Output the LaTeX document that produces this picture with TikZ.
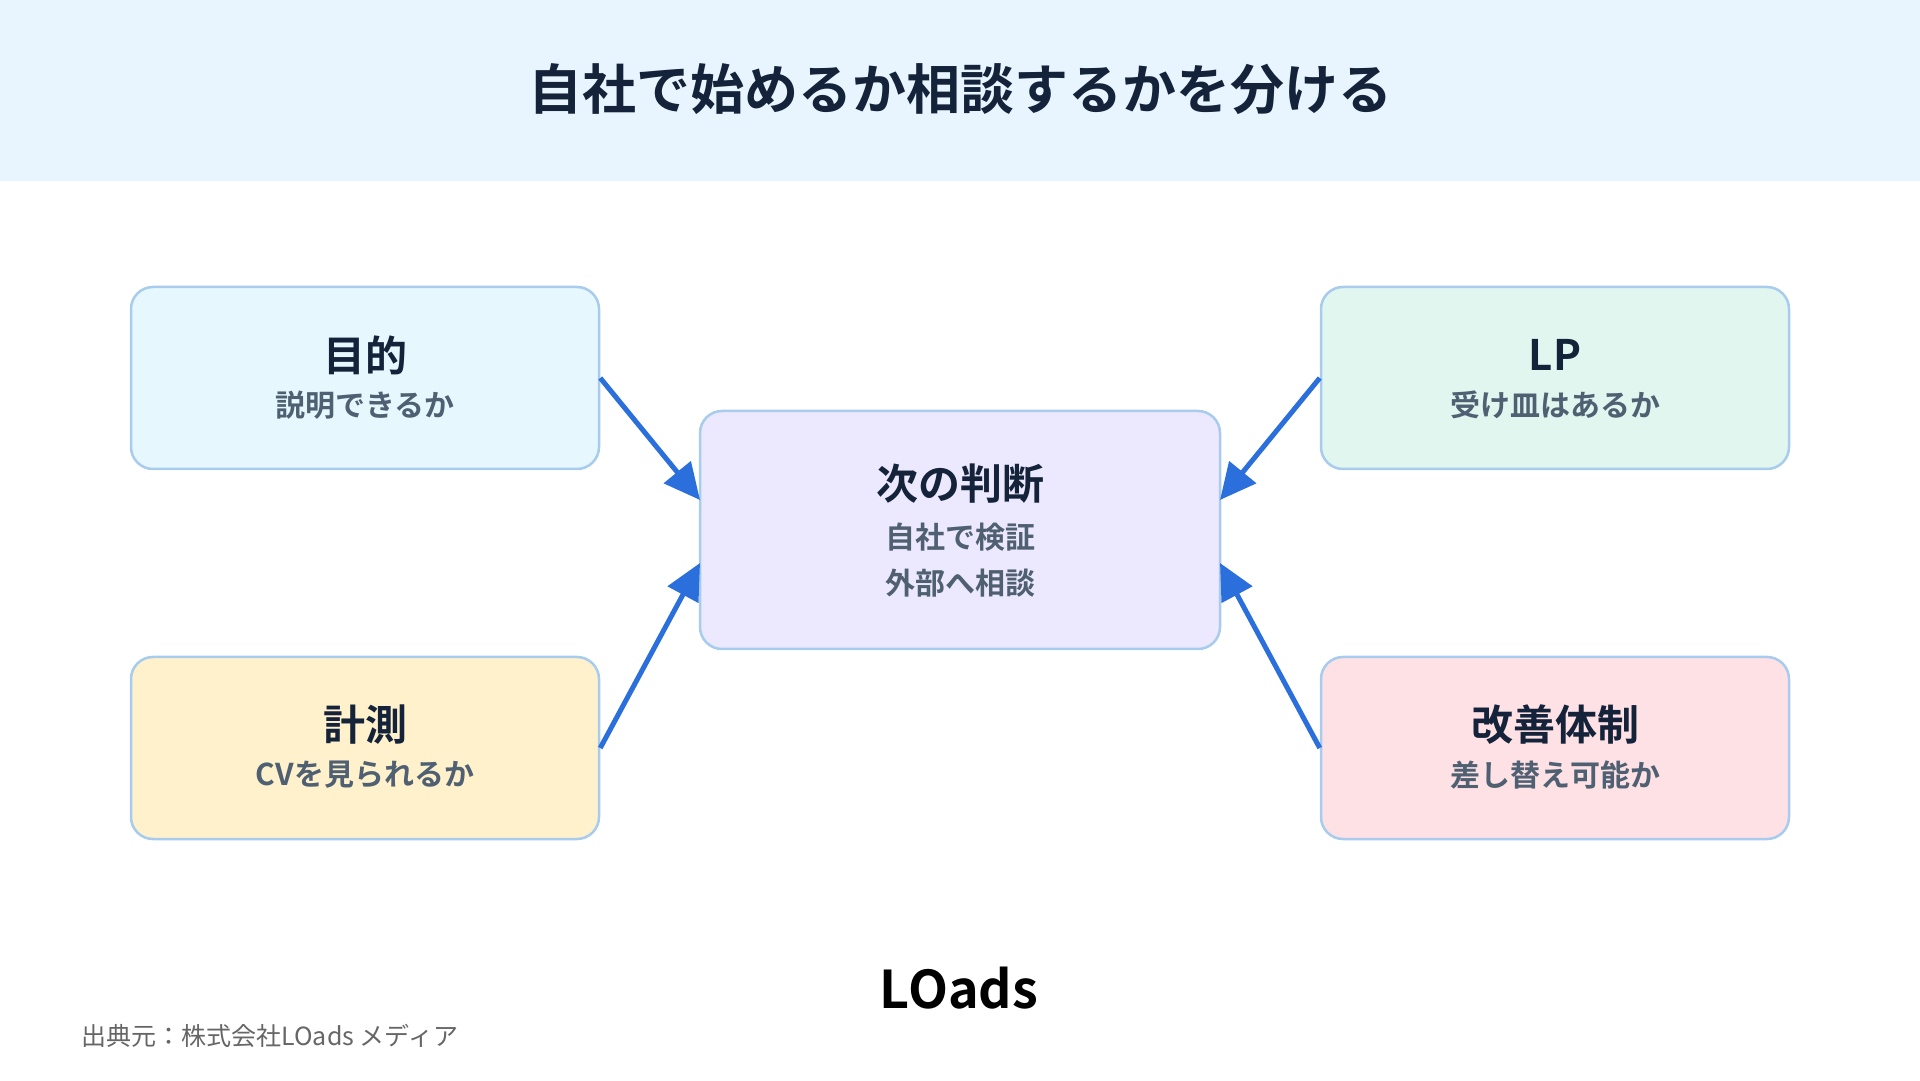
\documentclass[tikz,border=0pt]{standalone}
\usepackage{fontspec}
\setmainfont{Noto Sans CJK JP}
\newfontfamily\jpb{Noto Sans CJK JP Bold}
\newfontfamily\jpr{Noto Sans CJK JP}
\usetikzlibrary{arrows.meta}
\definecolor{hdr}{HTML}{E8F4FE}
\definecolor{bord}{HTML}{A8CCEE}
\definecolor{ttl}{HTML}{14233A}
\definecolor{sub}{HTML}{4F6072}
\definecolor{arr}{HTML}{2A6FDB}
\definecolor{fa}{HTML}{E6F8FD}
\definecolor{fb}{HTML}{E1F6EE}
\definecolor{fc}{HTML}{FEF1CC}
\definecolor{fd}{HTML}{FEE1E4}
\definecolor{fm}{HTML}{ECE8FD}
\begin{document}
\begin{tikzpicture}[x=1pt,y=1pt,
 box/.style={draw=bord,line width=2.5pt,rounded corners=22pt,minimum width=468pt,minimum height=182pt},
 cbox/.style={box,minimum width=520pt,minimum height=238pt},
 hd/.style={font=\jpb\fontsize{42}{50}\selectfont,text=ttl},
 sb/.style={font=\jpb\fontsize{30}{36}\selectfont,text=sub},
 ar/.style={draw=arr,line width=5pt,-{Triangle[length=36pt,width=34pt]}}]
\useasboundingbox (0,0) rectangle (1920,1080);
\fill[hdr] (0,899) rectangle (1920,1080);
\node[font=\jpb\fontsize{54}{60}\selectfont,text=ttl] (title) at (960,991) {自社で始めるか相談するかを分ける};
\node[box,fill=fa] (a) at (365,702) {};
\node[box,fill=fb] (b) at (1555,702) {};
\node[box,fill=fc] (c) at (365,332) {};
\node[box,fill=fd] (d) at (1555,332) {};
\node[cbox,fill=fm] (m) at (960,550) {};
\foreach \n/\h/\s in {a/目的/説明できるか,b/LP/受け皿はあるか,c/計測/CVを見られるか,d/改善体制/差し替え可能か}{
 \node[hd] (\n h) at ([yshift=23pt]\n.center) {\h};
 \node[sb] (\n s) at ([yshift=-27pt]\n.center) {\s};
}
\node[hd] (mh) at ([yshift=46pt]m.center) {次の判断};
\node[sb] (ms1) at ([yshift=-7pt]m.center) {自社で検証};
\node[sb] (ms2) at ([yshift=-53pt]m.center) {外部へ相談};
\coordinate (m1) at (700,580); \coordinate (m2) at (700,517);
\coordinate (m3) at (1220,580); \coordinate (m4) at (1220,517);
\draw[ar] (a.east) -- (m1);
\draw[ar] (c.east) -- (m2);
\draw[ar] (b.west) -- (m3);
\draw[ar] (d.west) -- (m4);
\node[font=\jpb\fontsize{52}{52}\selectfont,text=black] (logo) at (959,92) {LOads};
\node[anchor=west,font=\jpr\fontsize{25}{30}\selectfont,text=gray!80!black] (src) at (78,44) {出典元：株式会社LOads メディア};
\end{tikzpicture}
\end{document}
